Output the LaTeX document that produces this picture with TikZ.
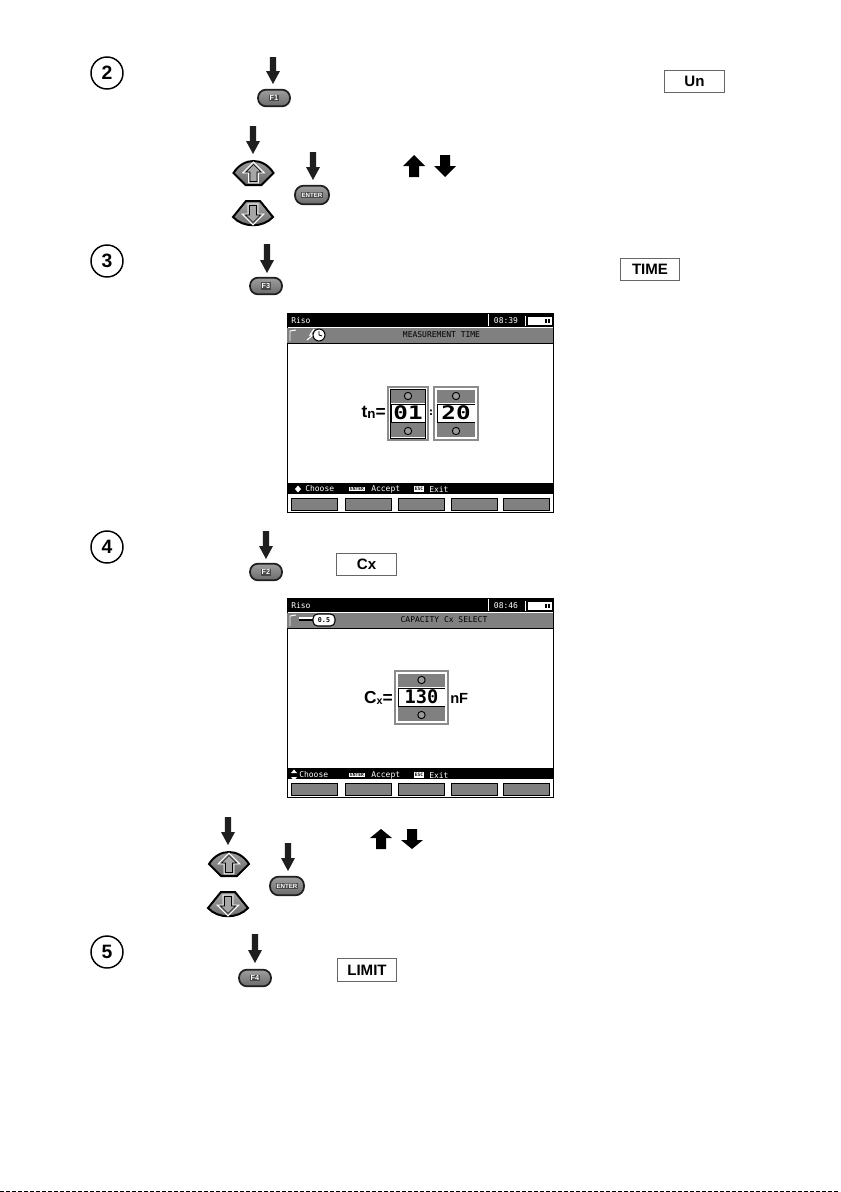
\documentclass[tikz,border=0pt]{standalone}
\usepackage{graphicx}
\usepackage{fontspec}
\setmainfont{Liberation Sans}
\newfontfamily\lcd{DejaVu Sans Mono}
\tikzset{
  x=0.75pt,y=-0.75pt,
  stepnum/.style={circle,draw=black,line width=1.1pt,minimum size=24pt,inner sep=0pt,font=\bfseries\fontsize{14.5}{15}\selectfont},
  softkey/.style={rounded corners=6pt,draw=black!88,line width=1.3pt,top color=black!38,bottom color=black!58,minimum height=12.5pt,inner sep=0pt},
  keytext/.style={fill=black!72,text=white,inner sep=0.7pt,font=\bfseries\fontsize{5.5}{6}\selectfont},
  labelbox/.style={draw=black!60,line width=0.7pt,fill=white,inner sep=0pt,minimum width=44.5pt,minimum height=17pt,font=\bfseries\fontsize{11.3}{12}\selectfont},
  pressarrow/.style={fill=black!88,draw=none},
  lcdbar/.style={fill=black,draw=none},
  lcdgray/.style={fill=black!50,draw=none},
  lcdsoft/.style={fill=black!50,draw=black,line width=0.5pt},
  lcdtext/.style={font=\lcd\fontsize{6}{7}\selectfont,inner sep=0pt},
  lcdbig/.style={font=\lcd\bfseries\fontsize{14}{15}\selectfont,inner sep=0pt},
  lcdsign/.style={font=\bfseries\fontsize{13}{14}\selectfont,inner sep=0pt},
  spin/.style={circle,draw=black,fill=black!40,line width=0.7pt,minimum size=5.5pt,inner sep=0pt},
  navkey/.style={draw=black,line width=1.5pt,top color=black!35,bottom color=black!60},
}
\newcommand{\pressarrow}[3]{% x, top, tip
  \fill[pressarrow] (#1-3.2,#2) -- (#1+3.2,#2) -- (#1+3.2,#3-13) -- (#1+7,#3-13) -- (#1,#3) -- (#1-7,#3-13) -- (#1-3.2,#3-13) -- cycle;}
\newcommand{\fkey}[4]{% name,x,y,label
  \node[softkey,minimum width=24pt] (#1) at (#2,#3) {};
  \node[keytext] (#1t) at (#1) {#4};}
\newcommand{\enterkey}[3]{% name,x,y
  \node[softkey,rounded corners=6.5pt,minimum width=25.5pt,minimum height=14pt] (#1) at (#2,#3) {};
  \node[keytext,font=\bfseries\fontsize{4.6}{5}\selectfont,inner sep=0.5pt] (#1t) at (#1) {ENTER};}
\newcommand{\upkey}[2]{% center x, center y
  \path[navkey] (#1-20,#2) .. controls (#1-10,#2-16) and (#1+10,#2-16) .. (#1+20,#2) -- (#1+8,#2+12) -- (#1-8,#2+12) -- cycle;
  \filldraw[draw=white,line width=0.6pt,fill=black!35] (#1,#2-11) -- (#1+11,#2) -- (#1+5,#2) -- (#1+5,#2+10) -- (#1-5,#2+10) -- (#1-5,#2) -- (#1-11,#2) -- cycle;
  \draw[black,line width=0.5pt] (#1,#2-8.5) -- (#1+7.5,#2-1) -- (#1+3.5,#2-1) -- (#1+3.5,#2+8.5) -- (#1-3.5,#2+8.5) -- (#1-3.5,#2-1) -- (#1-7.5,#2-1) -- cycle;}
\newcommand{\downkey}[2]{%
  \path[navkey] (#1-20,#2+4) .. controls (#1-10,#2+15) and (#1+10,#2+15) .. (#1+20,#2+4) -- (#1+7,#2-12) -- (#1-7,#2-12) -- cycle;
  \filldraw[draw=white,line width=0.6pt,fill=black!35] (#1,#2+12) -- (#1+11,#2+1) -- (#1+5,#2+1) -- (#1+5,#2-9) -- (#1-5,#2-9) -- (#1-5,#2+1) -- (#1-11,#2+1) -- cycle;
  \draw[black,line width=0.5pt] (#1,#2+9.5) -- (#1+7.5,#2+2) -- (#1+3.5,#2+2) -- (#1+3.5,#2-7.5) -- (#1-3.5,#2-7.5) -- (#1-3.5,#2+2) -- (#1-7.5,#2+2) -- cycle;}
\newcommand{\solidup}[3]{\fill[black] (#1,#2) -- (#1+11,#3-11) -- (#1+5,#3-11) -- (#1+5,#3) -- (#1-5,#3) -- (#1-5,#3-11) -- (#1-11,#3-11) -- cycle;}
\newcommand{\soliddown}[3]{\fill[black] (#1,#3) -- (#1+11,#2+11) -- (#1+5,#2+11) -- (#1+5,#2) -- (#1-5,#2) -- (#1-5,#2+11) -- (#1-11,#2+11) -- cycle;}
\newcommand{\screenbase}[2]{% y offset, time
  \begin{scope}[shift={(0,#1)}]
    \draw[black,line width=0.6pt,fill=white] (287,0) rectangle (553,199);
    \fill[lcdbar] (287,0) rectangle (553,14);
    \fill[lcdgray] (287,14.7) rectangle (553,30);
    \fill[lcdbar] (287,30) rectangle (553,31);
    \draw[white,line width=0.7pt] (290,28) -- (290,18) -- (296,17);
    \fill[lcdbar] (287,170) rectangle (553,181);
    \foreach \a/\b in {291/337,345/391,398/444,451/497,503/549}{
      \filldraw[lcdsoft] (\a,185) rectangle (\b,197);}
    \node[lcdtext,text=white,anchor=west] at (291,7.5) {Riso};
    \draw[white,line width=0.6pt] (488,1) -- (488,13);
    \draw[white,line width=0.6pt] (525,3) -- (525,13);
    \node[lcdtext,text=white] at (506,7.5) {#2};
    \draw[white,line width=0.6pt,fill=white] (528,4) rectangle (551,11);
    \fill[black] (545,5.5) rectangle (547,9.5);
    \fill[black] (548,5.5) rectangle (550,9.5);
  \end{scope}}
\newcommand{\spinbox}[6]{% name,x1,x2,y1,val,inner border
  \begin{scope}
    \draw[black!45,line width=0.8pt,fill=white] (#2,#4) rectangle (#3,#4+53);
    \fill[lcdgray] (#2+3,#4+3) rectangle (#3-3,#4+16);
    \fill[lcdgray] (#2+3,#4+36) rectangle (#3-3,#4+50);
    \draw[black,line width=0.7pt] (#2+3,#4+17) rectangle (#3-3,#4+35);
    \draw[#6,line width=0.7pt] (#2+2.2,#4+2) rectangle (#3-2.2,#4+51);
    \node[lcdbig] (#1) at ({(#2+#3)/2},#4+26) {#5};
    \node[spin] (#1u) at ({(#2+#3)/2},#4+9) {};
    \node[spin] (#1d) at ({(#2+#3)/2},#4+44) {};
  \end{scope}}
\begin{document}
\begin{tikzpicture}
\useasboundingbox (0,0) rectangle (840,1192);
\fill[white] (0,0) rectangle (840,1192);

% step numbers
\node[stepnum] (s2) at (107,73) {2};
\node[stepnum] (s3) at (107,261) {3};
\node[stepnum] (s4) at (107,547) {4};
\node[stepnum] (s5) at (107,952) {5};

% step 2
\pressarrow{273}{57}{84}
\fkey{f1}{274}{98}{F1}
\node[labelbox] (un) at (694.5,81.5) {Un};
\pressarrow{253}{126}{154}
\upkey{253.5}{173}
\downkey{253}{213}
\pressarrow{313}{152}{180}
\enterkey{ent1}{312}{195}
\solidup{414}{155}{177}
\soliddown{445}{155}{177}

% step 3
\pressarrow{267}{244}{273}
\fkey{f3}{266}{286}{F3}
\node[labelbox] (time) at (650,269.5) {TIME};

% screen 1
\screenbase{313}{08:39}
\node[lcdtext,text=black] (t1) at (441.5,335) {MEASUREMENT TIME};
\draw[white,line width=0.9pt] (314,329) -- (310,335) -- (313,335) -- (307,340);
\draw[black,fill=white,line width=0.8pt] (319,335) circle (6);
\draw[black,line width=0.6pt] (319,331) -- (319,335) -- (322,336);
\spinbox{m1}{388}{428}{387}{\scalebox{1.3}[1]{01}}{black}
\spinbox{m2}{434}{478}{387}{\scalebox{1.3}[1]{20}}{white}
\node[lcdsign,anchor=east] (tn) at (386,412.5) {t\raisebox{-0.3pt}{\fontsize{10}{10}\selectfont n}=};
\node[lcdtext,font=\lcd\bfseries\fontsize{8}{8}\selectfont] (col) at (431,413) {:};
\node[lcdtext,text=white,anchor=west] (ch1) at (305,489) {Choose};
\fill[white] (298,485.5) -- (295,489) -- (298,492.5) -- (301,489) -- cycle;
\node[lcdtext,fill=white,text=black,font=\lcd\bfseries\fontsize{3.4}{4}\selectfont,inner sep=0.6pt] (en1) at (357,489) {ENTER};
\node[lcdtext,text=white,anchor=west] (ac1) at (371,489) {Accept};
\node[lcdtext,fill=white,text=black,font=\lcd\bfseries\fontsize{3.4}{4}\selectfont,inner sep=0.6pt] (es1) at (419,489) {ESC};
\node[lcdtext,text=white,anchor=west] (ex1) at (429,489) {Exit};

% step 4
\pressarrow{266}{531}{559}
\fkey{f2}{266}{572}{F2}
\node[labelbox] (cx) at (366.5,564.5) {Cx};

% screen 2
\screenbase{598}{08:46}
\node[lcdtext,text=black] (t2) at (444,620) {CAPACITY Cx SELECT};
\draw[black,line width=0.8pt] (299,620) -- (313,620);
\draw[white,line width=0.8pt] (299,618) -- (313,618);
\filldraw[draw=black,fill=white,line width=0.8pt,rounded corners=3.5pt] (313,614) rectangle (335,626);
\node[lcdtext,font=\lcd\bfseries\fontsize{5}{6}\selectfont] (cap) at (324,620) {0.5};
\spinbox{m3}{395}{448}{671}{130}{white}
\node[lcdsign,anchor=east] (cxl) at (393,698) {C\raisebox{-0.3pt}{\fontsize{8}{8}\selectfont x}=};
\node[lcdsign,anchor=west,font=\bfseries\fontsize{11}{12}\selectfont] (nf) at (450,698) {nF};
\node[lcdtext,text=white,anchor=west] (ch2) at (299,775) {Choose};
\fill[white] (294,769.5) -- (291,773) -- (297,773) -- cycle;
\fill[white] (294,780.5) -- (291,777) -- (297,777) -- cycle;
\node[lcdtext,fill=white,text=black,font=\lcd\bfseries\fontsize{3.4}{4}\selectfont,inner sep=0.6pt] (en2) at (357,775) {ENTER};
\node[lcdtext,text=white,anchor=west] (ac2) at (371,775) {Accept};
\node[lcdtext,fill=white,text=black,font=\lcd\bfseries\fontsize{3.4}{4}\selectfont,inner sep=0.6pt] (es2) at (419,775) {ESC};
\node[lcdtext,text=white,anchor=west] (ex2) at (429,775) {Exit};

% below screen 2
\pressarrow{228}{817}{845}
\upkey{229}{864}
\downkey{228}{904}
\pressarrow{288}{843}{871}
\enterkey{ent2}{287}{886}
\solidup{381}{829}{849}
\soliddown{412}{829}{849}

% step 5
\pressarrow{255}{934}{963}
\fkey{f4}{255}{978}{F4}
\node[labelbox] (limit) at (367,970) {LIMIT};

% page edge
\draw[black,line width=0.8pt,dash pattern=on 3pt off 1.5pt] (0,1191.5) -- (840,1191.5);
\end{tikzpicture}
\end{document}
